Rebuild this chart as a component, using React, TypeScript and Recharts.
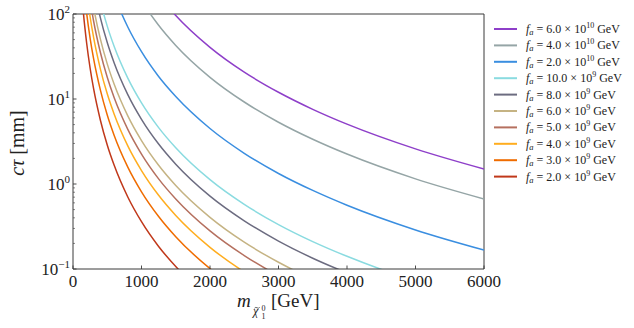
import React from "react";
import { LineChart, Line, XAxis, YAxis, ReferenceLine } from "recharts";

// neutralino mass in GeV
const massGeV = [100, 150, 200, 250, 300, 400, 500, 600, 800, 1000, 1250, 1500, 2000, 2500, 3000, 3500, 4000, 5000, 6000];

// c*tau in mm, one list per f_a value
const ctauFa6e10 = [324000, 96000, 40500, 20736, 12000, 5063, 2592, 1500, 633, 324, 166, 96, 40.5, 20.7, 12.0, 7.56, 5.06, 2.59, 1.5];
const ctauFa4e10 = [144000, 42667, 18000, 9216, 5333, 2250, 1152, 667, 281, 144, 73.7, 42.7, 18.0, 9.22, 5.33, 3.36, 2.25, 1.15, 0.667];
const ctauFa2e10 = [36000, 10667, 4500, 2304, 1333, 562, 288, 167, 70.3, 36, 18.4, 10.7, 4.5, 2.3, 1.33, 0.84, 0.5625, 0.288, 0.167];
const ctauFa10e9 = [9000, 2667, 1125, 576, 333, 141, 72, 41.7, 17.6, 9, 4.61, 2.67, 1.125, 0.576, 0.333, 0.21, 0.141, 0.072, 0.0417];
const ctauFa8e9 = [5760, 1707, 720, 369, 213, 90, 46.1, 26.7, 11.25, 5.76, 2.95, 1.71, 0.72, 0.369, 0.213, 0.134, 0.09, 0.046, 0.0267];
const ctauFa6e9 = [3240, 960, 405, 207, 120, 50.6, 25.9, 15.0, 6.33, 3.24, 1.66, 0.96, 0.405, 0.207, 0.12, 0.0756, 0.0506, 0.0259, 0.015];
const ctauFa5e9 = [2250, 667, 281, 144, 83.3, 35.2, 18, 10.4, 4.39, 2.25, 1.15, 0.667, 0.281, 0.144, 0.0833, 0.0525, 0.0352, 0.018, 0.0104];
const ctauFa4e9 = [1440, 427, 180, 92.2, 53.3, 22.5, 11.5, 6.67, 2.81, 1.44, 0.737, 0.427, 0.18, 0.0922, 0.0533, 0.0336, 0.0225, 0.0115, 0.00667];
const ctauFa3e9 = [810, 240, 101, 51.8, 30, 12.7, 6.48, 3.75, 1.58, 0.81, 0.415, 0.24, 0.101, 0.0518, 0.03, 0.0189, 0.0127, 0.00648, 0.00375];
const ctauFa2e9 = [360, 107, 45, 23, 13.3, 5.63, 2.88, 1.67, 0.703, 0.36, 0.184, 0.107, 0.045, 0.023, 0.0133, 0.0084, 0.00563, 0.00288, 0.00167];

const seriesValues = [ctauFa6e10, ctauFa4e10, ctauFa2e10, ctauFa10e9, ctauFa8e9, ctauFa6e9, ctauFa5e9, ctauFa4e9, ctauFa3e9, ctauFa2e9];
const faMantissa = ["6.0", "4.0", "2.0", "10.0", "8.0", "6.0", "5.0", "4.0", "3.0", "2.0"];
const faExponent = ["10", "10", "10", "9", "9", "9", "9", "9", "9", "9"];
const colors = ["#8e3fc9", "#95a5a6", "#3a8ee0", "#8adbe0", "#6c6c80", "#c5b383", "#b5705f", "#ffad1f", "#ef6c00", "#c0381a"];

const xTicks = [0, 1000, 2000, 3000, 4000, 5000, 6000];
const yMajor = [0.1, 1, 10, 100];
const yMajorLabel = ["\u22121", "0", "1", "2"];
const yMinor = [0.2, 0.3, 0.4, 0.5, 0.6, 0.7, 0.8, 0.9, 2, 3, 4, 5, 6, 7, 8, 9, 20, 30, 40, 50, 60, 70, 80, 90];

const data = massGeV.map((m, i) => {
  const row: Record<string, number> = { m };
  seriesValues.forEach((s, k) => {
    row["s" + k] = s[i];
  });
  return row;
});

const serif = { fontFamily: "Liberation Serif" };
const AXIS = "#3a3a3a";

const YTick = (props: any) => {
  const { x, y, payload } = props;
  const idx = yMajor.indexOf(payload.value);
  const major = idx >= 0;
  return (
    <g>
      <line x1={x} x2={x + (major ? 3.5 : 2)} y1={y} y2={y} stroke={AXIS} strokeWidth={major ? 0.9 : 0.6} />
      {major && (
        <text x={x - 3} y={y + 6} textAnchor="end" fontSize={17} fill="#222" style={serif}>
          10<tspan dy={-7} fontSize={11}>{yMajorLabel[idx]}</tspan>
        </text>
      )}
    </g>
  );
};

const XTick = (props: any) => {
  const { x, y, payload } = props;
  return (
    <g>
      <line x1={x} x2={x} y1={y} y2={y - 3.5} stroke={AXIS} strokeWidth={0.9} />
      <text x={x} y={y + 18} textAnchor="middle" fontSize={17} fill="#222" style={serif}>
        {payload.value}
      </text>
    </g>
  );
};

const XTitle = () => (
  <g fill="#222" style={serif}>
    <text x={237} y={307} fontSize={19} fontStyle="italic">m</text>
    <text x={253} y={315} fontSize={12} fontStyle="italic">{"\u03c7"}</text>
    {/* tilde over chi */}
    <path d="M254.5,308.2 q1.2,-1.4 2.6,-0.4 q1.4,1 2.6,-0.4" fill="none" stroke="#222" strokeWidth={0.7} />
    <text x={261.5} y={310.5} fontSize={8}>0</text>
    <text x={261.5} y={318.5} fontSize={8}>1</text>
    <text x={271} y={307} fontSize={19}>[GeV]</text>
  </g>
);

const YTitle = () => (
  <text transform="translate(24,143) rotate(-90)" textAnchor="middle" fontSize={20} fill="#222" style={serif}>
    <tspan fontStyle="italic">c{"\u03c4"}</tspan> [mm]
  </text>
);

const LegendBox = () => (
  <svg width={634} height={328} style={{ position: "absolute", left: 0, top: 0, pointerEvents: "none" }}>
    {faMantissa.map((mant, i) => {
      const y = 29 + i * 16.4;
      return (
        <g key={i}>
          <line x1={494} x2={517} y1={y} y2={y} stroke={colors[i]} strokeWidth={2} />
          <text x={526} y={y + 4} fontSize={12} fill="#222" style={serif}>
            <tspan fontStyle="italic">f</tspan>
            <tspan fontStyle="italic" fontSize={8.5} dy={2}>a</tspan>
            <tspan dy={-2}>{" = " + mant + " \u00d7 10"}</tspan>
            <tspan fontSize={8} dy={-5}>{faExponent[i]}</tspan>
            <tspan dy={5}>{" GeV"}</tspan>
          </text>
        </g>
      );
    })}
  </svg>
);

export default function App() {
  return (
    <div style={{ position: "absolute", left: 0, top: 0, width: 634, height: 328, background: "#fff" }}>
      <LineChart width={634} height={328} data={data} margin={{ top: 14, right: 150, bottom: 0, left: 0 }}>
        <XAxis
          dataKey="m"
          type="number"
          domain={[0, 6000]}
          ticks={xTicks}
          allowDataOverflow
          height={59}
          stroke={AXIS}
          tickLine={false}
          tickSize={0}
          tickMargin={0}
          tick={<XTick />}
          label={{ content: <XTitle /> }}
        />
        <YAxis
          type="number"
          scale="log"
          domain={[0.1, 100]}
          allowDataOverflow
          ticks={[...yMajor, ...yMinor]}
          interval={0}
          width={73}
          stroke={AXIS}
          tickLine={false}
          tickSize={0}
          tickMargin={0}
          tick={<YTick />}
          label={{ content: <YTitle /> }}
        />
        <ReferenceLine y={100} stroke={AXIS} strokeWidth={1} />
        <ReferenceLine x={6000} stroke={AXIS} strokeWidth={1} />
        {seriesValues.map((_, k) => (
          <Line
            key={k}
            dataKey={"s" + k}
            type="monotone"
            stroke={colors[k]}
            strokeWidth={1.5}
            dot={false}
            isAnimationActive={false}
          />
        ))}
      </LineChart>
      <LegendBox />
    </div>
  );
}
